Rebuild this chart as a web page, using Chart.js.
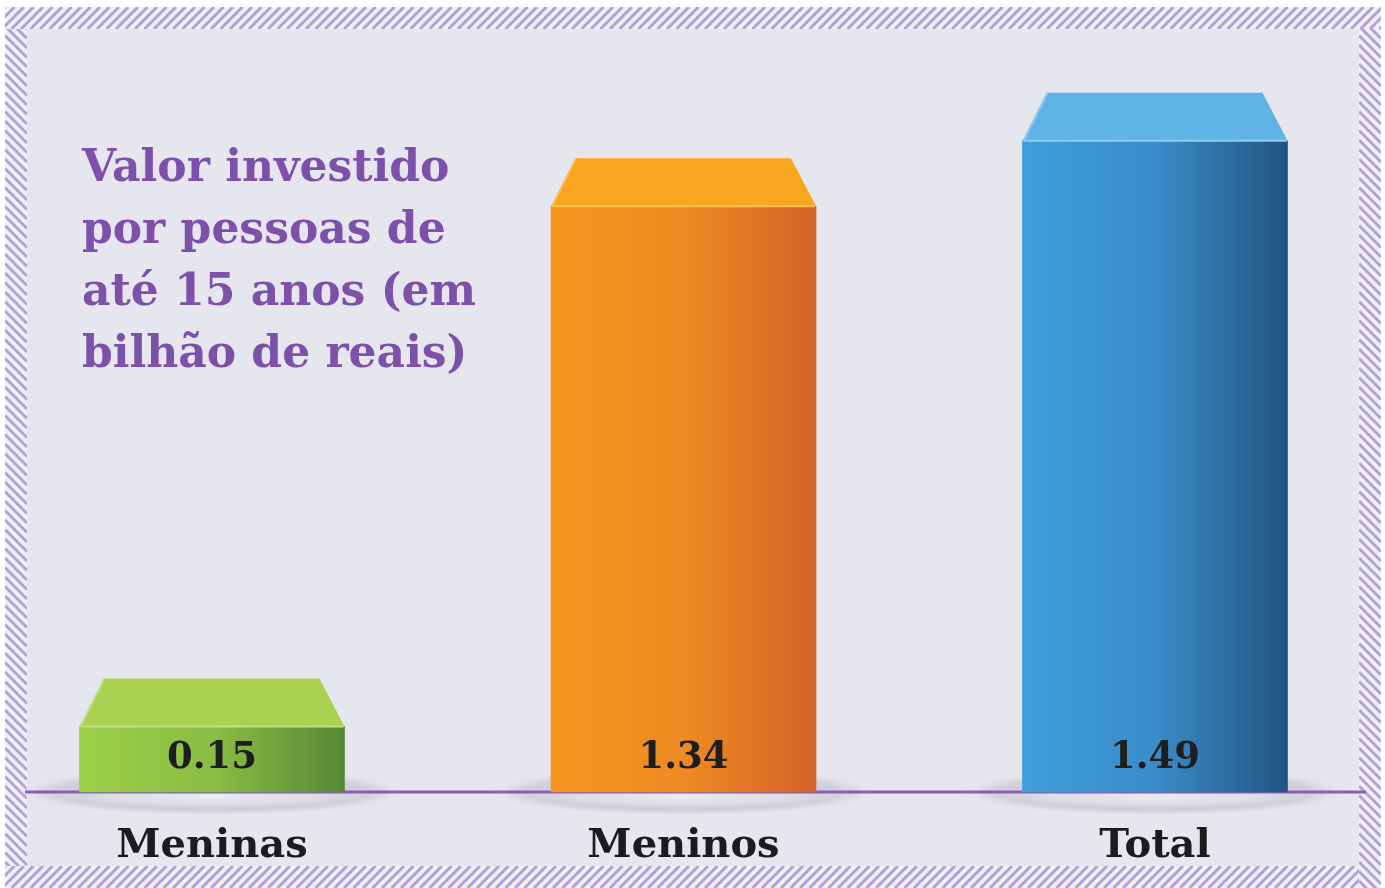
<!DOCTYPE html>
<html>
<head>
<meta charset="utf-8">
<script src="https://cdn.jsdelivr.net/npm/chart.js@4/dist/chart.umd.min.js"></script>
<style>
html,body{margin:0;padding:0;background:#ffffff;}
canvas{display:block;}
</style>
</head>
<body>
<canvas id="c" width="1385" height="888"></canvas>
<script>
// ---- data ----
const categories = ["Meninas", "Meninos", "Total"];
const values = [0.15, 1.34, 1.49];
const valueLabels = ["0.15", "1.34", "1.49"];
const titleLines = ["Valor investido", "por pessoas de", "até 15 anos (em", "bilhão de reais)"];

// ---- styles ----
const frontLeft  = ["#9ccf48", "#f7961e", "#3f9fdc"];
const frontMid   = ["#8cbd44", "#ee8a22", "#3a8cc8"];
const frontRight = ["#578836", "#d4632a", "#225482"];
const topColor   = ["#a9d152", "#f9a61f", "#5fb4e5"];
const edgeColor  = ["#c4e07c", "#fbbd55", "#8fcdf0"];
const BAR_W = 265;
const FONT = "'DejaVu Serif', 'Liberation Serif', serif";

const decor = {
  id: 'decor',
  beforeDraw(chart) {
    const ctx = chart.ctx;
    const W = chart.width, H = chart.height;
    ctx.save();
    ctx.fillStyle = '#ffffff';
    ctx.fillRect(0, 0, W, H);
    ctx.fillStyle = '#e6e6ef';
    ctx.fillRect(5, 7, 1376, 881);
    // hatched border
    ctx.strokeStyle = 'rgba(160,140,212,0.8)';
    ctx.lineWidth = 3;
    const band = (x, y, w, h, dir) => {
      ctx.save();
      ctx.beginPath(); ctx.rect(x, y, w, h); ctx.clip();
      ctx.fillStyle = '#f1f0f7';
      ctx.fillRect(x, y, w, h);
      ctx.beginPath();
      const span = Math.max(w, h) + 60;
      if (dir === '/') {
        for (let k = -60; k < span; k += 9.5) {
          if (w > h) { ctx.moveTo(x + k, y + h); ctx.lineTo(x + k + h, y); }
          else { ctx.moveTo(x, y + k + w); ctx.lineTo(x + w, y + k); }
        }
      } else {
        for (let k = -60; k < span; k += 9.5) {
          if (w > h) { ctx.moveTo(x + k, y); ctx.lineTo(x + k + h, y + h); }
          else { ctx.moveTo(x, y + k); ctx.lineTo(x + w, y + k + w); }
        }
      }
      ctx.stroke();
      ctx.restore();
    };
    band(5, 7, 1376, 22, '/');
    band(5, 866, 1356, 22, '/');
    band(5, 29, 22, 837, '\\');
    band(1359, 29, 22, 859, '\\');
    ctx.restore();
  },
  beforeDatasetsDraw(chart) {
    const ctx = chart.ctx;
    const base = chart.scales.y.getPixelForValue(0);
    const meta = chart.getDatasetMeta(0);
    ctx.save();
    meta.data.forEach((bar) => {
      const rx = bar.width / 2 + 65, ry = 24;
      ctx.save();
      ctx.translate(bar.x, base);
      ctx.scale(1, ry / rx);
      const g = ctx.createRadialGradient(0, 0, rx * 0.2, 0, 0, rx);
      g.addColorStop(0, 'rgba(196,196,208,0.95)');
      g.addColorStop(0.75, 'rgba(204,204,216,0.8)');
      g.addColorStop(1, 'rgba(225,225,235,0)');
      ctx.fillStyle = g;
      ctx.beginPath(); ctx.arc(0, 0, rx, 0, Math.PI * 2); ctx.fill();
      ctx.restore();
      // soft light reflection just below the baseline
      const rx2 = bar.width / 2 + 20, ry2 = 12;
      ctx.save();
      ctx.translate(bar.x, base + 4);
      ctx.scale(1, ry2 / rx2);
      const g2 = ctx.createRadialGradient(0, 0, 0, 0, 0, rx2);
      g2.addColorStop(0, 'rgba(240,240,246,0.9)');
      g2.addColorStop(0.7, 'rgba(232,232,240,0.6)');
      g2.addColorStop(1, 'rgba(225,225,235,0)');
      ctx.fillStyle = g2;
      ctx.beginPath(); ctx.arc(0, 0, rx2, 0, Math.PI * 2); ctx.fill();
      ctx.restore();
    });
    // baseline
    ctx.strokeStyle = '#8b5db3';
    ctx.lineWidth = 3;
    ctx.beginPath(); ctx.moveTo(25, base); ctx.lineTo(1366, base); ctx.stroke();
    ctx.restore();
  },
  afterDatasetsDraw(chart) {
    const ctx = chart.ctx;
    const base = chart.scales.y.getPixelForValue(0);
    const meta = chart.getDatasetMeta(0);
    ctx.save();
    meta.data.forEach((bar, i) => {
      const l = bar.x - bar.width / 2, r = bar.x + bar.width / 2, y = bar.y;
      const depth = 48, inset = 25;
      ctx.fillStyle = topColor[i];
      ctx.beginPath();
      ctx.moveTo(l, y); ctx.lineTo(l + inset, y - depth);
      ctx.lineTo(r - inset, y - depth); ctx.lineTo(r, y);
      ctx.closePath(); ctx.fill();
      ctx.strokeStyle = edgeColor[i];
      ctx.lineWidth = 2;
      ctx.beginPath(); ctx.moveTo(l + 1, y); ctx.lineTo(r - 1, y);
      ctx.moveTo(l + 1, y); ctx.lineTo(l + inset, y - depth);
      ctx.stroke();
      // value label
      ctx.fillStyle = '#1e1e1e';
      ctx.font = "bold 37px " + FONT;
      ctx.textAlign = 'center';
      ctx.textBaseline = 'middle';
      ctx.fillText(valueLabels[i], bar.x, base - 34);
    });
    // title
    ctx.fillStyle = '#7d51a9';
    ctx.font = "bold 44px " + FONT;
    ctx.textAlign = 'left';
    ctx.textBaseline = 'middle';
    titleLines.forEach((t, k) => ctx.fillText(t, 82, 170 + k * 62));
    ctx.restore();
  }
};

new Chart(document.getElementById('c'), {
  type: 'bar',
  data: {
    labels: categories,
    datasets: [{
      data: values,
      barThickness: BAR_W,
      borderWidth: 0,
      clip: false,
      backgroundColor: (c) => {
        const chart = c.chart;
        if (!chart.chartArea) return frontLeft[c.dataIndex];
        const x = chart.scales.x.getPixelForValue(c.dataIndex);
        const g = chart.ctx.createLinearGradient(x - BAR_W / 2, 0, x + BAR_W / 2, 0);
        g.addColorStop(0, frontLeft[c.dataIndex]);
        g.addColorStop(0.5, frontMid[c.dataIndex]);
        g.addColorStop(1, frontRight[c.dataIndex]);
        return g;
      }
    }]
  },
  options: {
    responsive: false,
    devicePixelRatio: 1,
    animation: false,
    layout: { padding: { left: 212, right: 230, top: 49, bottom: 0 } },
    plugins: { legend: { display: false }, tooltip: { enabled: false }, title: { display: false } },
    scales: {
      x: {
        offset: false,
        grid: { display: false, drawTicks: false },
        border: { display: false },
        ticks: {
          color: '#1c1c1c',
          font: { family: FONT, size: 40, weight: 'bold' },
          padding: 31,
          maxRotation: 0,
          autoSkip: false
        },
        afterFit: (s) => { s.height = 96; }
      },
      y: {
        display: false,
        min: 0,
        max: 1.7
      }
    }
  },
  plugins: [decor]
});
</script>
</body>
</html>
